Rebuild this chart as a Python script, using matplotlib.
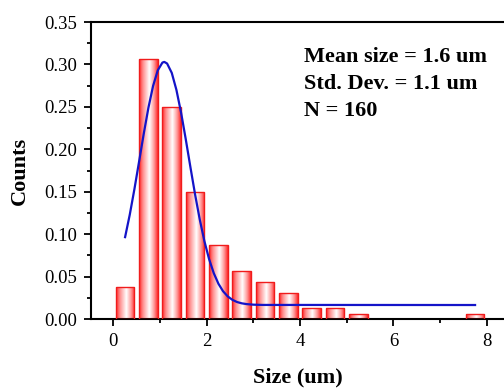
import numpy as np
import matplotlib
matplotlib.use("Agg")
import matplotlib.pyplot as plt
from matplotlib.colors import LinearSegmentedColormap
from matplotlib.ticker import MultipleLocator, FormatStrFormatter

# histogram bins (centres, um) and normalised counts (n / 160)
bin_centers = [0.25, 0.75, 1.25, 1.75, 2.25, 2.75, 3.25, 3.75, 4.25, 4.75, 5.25, 7.75]
counts = [0.0375, 0.30625, 0.25, 0.15, 0.0875, 0.05625, 0.04375, 0.03125,
          0.0125, 0.0125, 0.00625, 0.00625]

# fitted curve, points
fit_x = [0.25, 0.35, 0.45, 0.55, 0.65, 0.75, 0.85, 0.95, 1.05, 1.09, 1.15, 1.25,
         1.35, 1.45, 1.55, 1.65, 1.75, 1.85, 1.95, 2.05, 2.15, 2.25, 2.35, 2.45,
         2.55, 2.65, 2.75, 2.85, 3.0, 3.2, 7.75]
fit_y = [0.0965, 0.1229, 0.1531, 0.1856, 0.2184, 0.2490, 0.2747, 0.2930, 0.3022,
         0.3030, 0.3011, 0.2901, 0.2700, 0.2432, 0.2119, 0.1790, 0.1468, 0.1173,
         0.0917, 0.0706, 0.0541, 0.0416, 0.0327, 0.0266, 0.0226, 0.0200, 0.0185,
         0.0176, 0.0169, 0.0166, 0.0165]

stats_text = "Mean size = 1.6 um\nStd. Dev. = 1.1 um\nN = 160"

plt.rcParams['font.family'] = ['Liberation Serif', 'DejaVu Serif']

fig = plt.figure(figsize=(5.04, 3.89), dpi=100)
ax = fig.add_axes([0.1806, 0.1799, 0.8194, 0.7635])

bars = ax.bar(bin_centers, counts, width=0.4, facecolor='none',
              edgecolor='#f01c1c', linewidth=1.0, zorder=3)

# red-white-red gradient inside each bar
grad = LinearSegmentedColormap.from_list(
    'bar', [(0.0, '#ff2a2a'), (0.2, '#ff8c8c'), (0.55, '#ffffff'),
            (0.8, '#ff9c9c'), (1.0, '#ff2a2a')])
g = np.linspace(0, 1, 64).reshape(1, -1)
for b in bars:
    x0, y0 = b.get_x(), b.get_y()
    im = ax.imshow(g, cmap=grad, aspect='auto', interpolation='bilinear',
                   extent=(x0, x0 + b.get_width(), y0, y0 + b.get_height()),
                   zorder=2)
    im.set_clip_path(b)

ax.plot(fit_x, fit_y, color='#1414c8', linewidth=1.6, zorder=4)

ax.set_xlim(-0.48, 8.37)
ax.set_ylim(0, 0.35)

ax.xaxis.set_major_locator(MultipleLocator(2))
ax.xaxis.set_minor_locator(MultipleLocator(1))
ax.yaxis.set_major_locator(MultipleLocator(0.05))
ax.yaxis.set_minor_locator(MultipleLocator(0.025))
ax.yaxis.set_major_formatter(FormatStrFormatter('%.2f'))

ax.spines['right'].set_visible(False)
for s in ['left', 'bottom', 'top']:
    ax.spines[s].set_linewidth(1.5)

ax.tick_params(which='major', direction='out', length=5, width=1.3,
               labelsize=13.5, pad=5)
ax.tick_params(which='minor', direction='out', length=3, width=1.3)
ax.tick_params(top=False, which='both')

ax.set_xlabel('Size (um)', fontsize=16, fontweight='bold', labelpad=13)
ax.set_ylabel('Counts', fontsize=16, fontweight='bold', labelpad=10)

ax.text(0.515, 0.915, stats_text, transform=ax.transAxes, fontsize=16,
        fontweight='bold', va='top', ha='left', linespacing=1.45)

fig.savefig('out.png', dpi=100)
